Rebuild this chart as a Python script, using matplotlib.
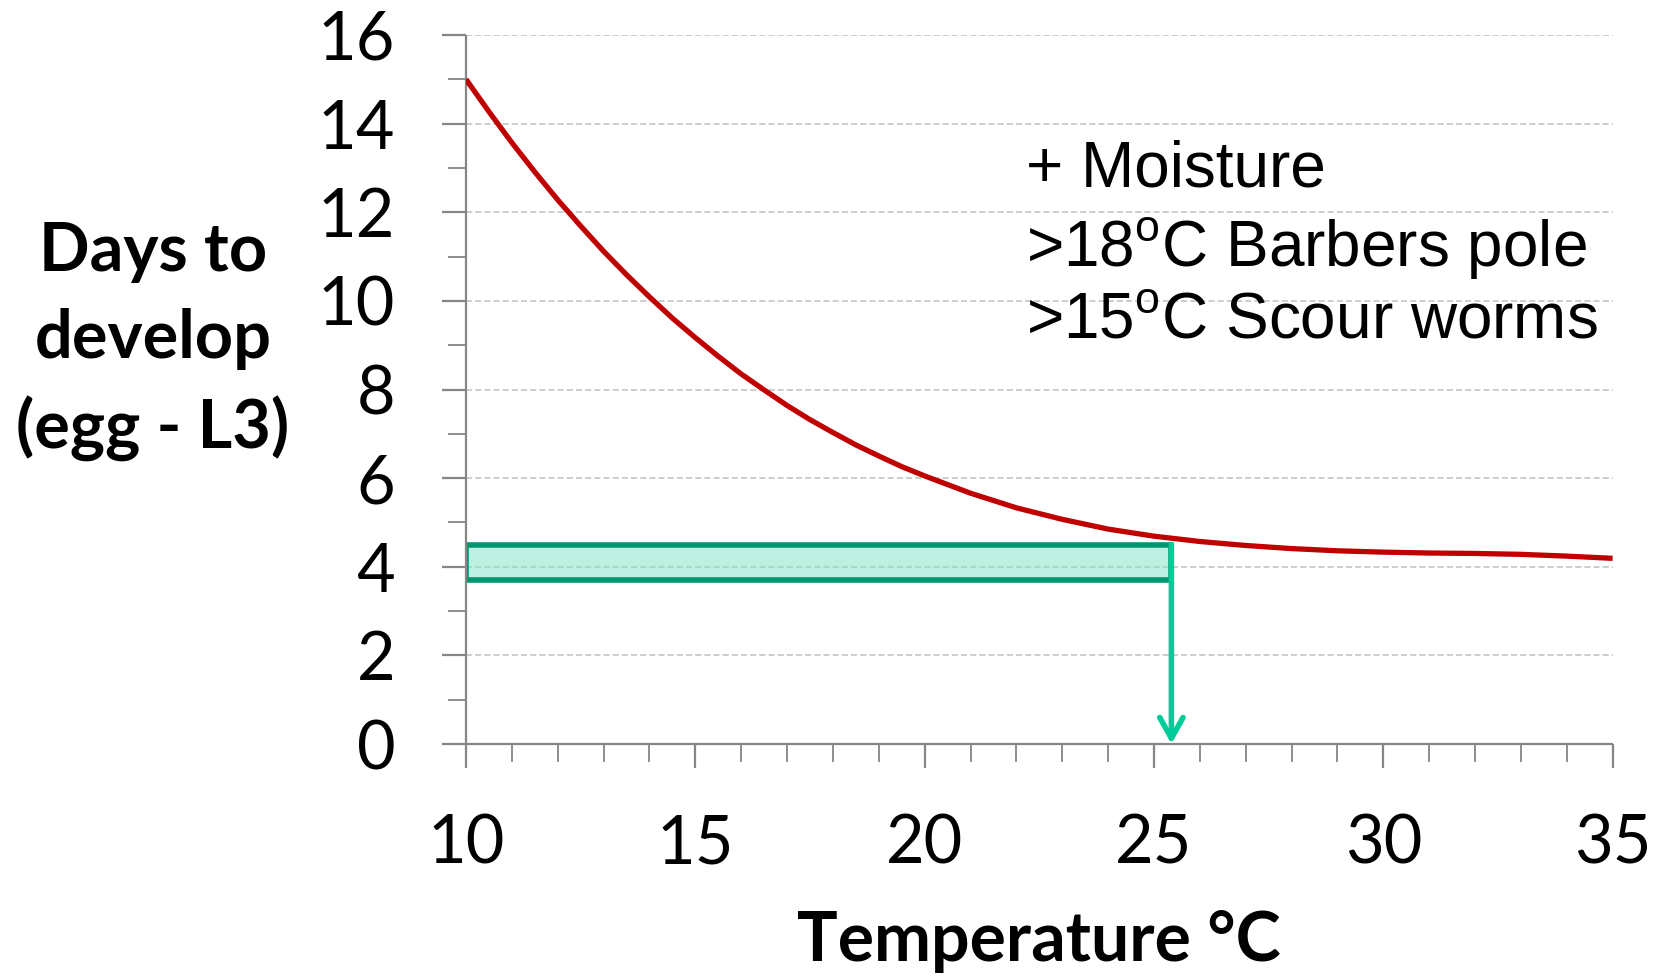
import matplotlib
matplotlib.use('Agg')
import matplotlib.pyplot as plt
from matplotlib.patches import Rectangle
from matplotlib.ticker import MultipleLocator

# values
temperature = [10, 10.5, 11, 11.5, 12, 12.5, 13, 13.5, 14, 14.5, 15, 15.5,
               16, 16.5, 17, 17.5, 18, 18.5, 19, 19.5, 20, 21, 22, 23, 24,
               25, 26, 27, 28, 29, 30, 31, 32, 33, 34, 35]
days = [15.0, 14.27, 13.57, 12.91, 12.28, 11.69, 11.12, 10.59, 10.09, 9.61,
        9.17, 8.75, 8.35, 7.99, 7.64, 7.32, 7.03, 6.75, 6.50, 6.26, 6.05,
        5.66, 5.33, 5.07, 4.85, 4.69, 4.57, 4.48, 4.41, 4.36, 4.33, 4.31,
        4.30, 4.28, 4.24, 4.19]

x_ticks = [10, 15, 20, 25, 30, 35]
y_ticks = [0, 2, 4, 6, 8, 10, 12, 14, 16]

# highlighted band and the temperature it points to
band_days = [3.7, 4.5]
band_temp = 25.38

notes = ['+ Moisture',
         r'>18$^{\mathrm{o}}$C Barbers pole',
         r'>15$^{\mathrm{o}}$C Scour worms']

plt.rcParams['font.family'] = ['Lato', 'DejaVu Sans']
plt.rcParams['mathtext.fontset'] = 'custom'
plt.rcParams['mathtext.rm'] = 'Liberation Sans'

axis_grey = '#868686'

fig = plt.figure(figsize=(16.59, 9.76), dpi=100)
ax = fig.add_axes([466/1659, 1-744/976, (1612.6-466)/1659, (744-35)/976])

ax.set_xlim(10, 35)
ax.set_ylim(0, 16)
ax.set_xticks(x_ticks)
ax.set_yticks(y_ticks)
ax.xaxis.set_minor_locator(MultipleLocator(1))
ax.yaxis.set_minor_locator(MultipleLocator(1))

for side in ['top', 'right']:
    ax.spines[side].set_visible(False)
for side in ['left', 'bottom']:
    ax.spines[side].set_color(axis_grey)
    ax.spines[side].set_linewidth(1.6)
    ax.spines[side].set_capstyle('butt')

ax.tick_params(which='major', length=17, width=1.6, color=axis_grey, labelsize=48)
ax.tick_params(which='minor', length=13, width=1.3, color=axis_grey)
ax.tick_params(axis='x', which='major', pad=33)
ax.tick_params(axis='y', which='major', pad=34)

ax.grid(axis='y', which='major', color='#c0c0c0', linestyle=(0, (4, 2)), linewidth=1.1)
ax.set_axisbelow(True)

# band + arrow
band = Rectangle((10, band_days[0]), band_temp - 10, band_days[1] - band_days[0],
                 facecolor=(0.5, 0.88, 0.76, 0.5), edgecolor='#009670',
                 linewidth=4, zorder=2)
ax.add_patch(band)
ax.annotate('', xy=(band_temp, 0), xytext=(band_temp, band_days[1]),
            arrowprops=dict(arrowstyle='->, head_length=0.5, head_width=0.28',
                            color='#00cc99', lw=4, mutation_scale=30,
                            shrinkA=0, shrinkB=0),
            zorder=3)

ax.plot(temperature, days, color='#c00000', linewidth=3.8, zorder=4,
        solid_capstyle='butt')

note_y = [12.97, 11.2, 9.55]
for txt, yy in zip(notes, note_y):
    ax.text(22.2, yy, txt, fontsize=46, family='Liberation Sans',
            ha='left', va='center')

ax.set_xlabel('Temperature °C', fontsize=49, fontweight='bold', va='center')
ax.xaxis.set_label_coords(0.5, -0.278)
ax.set_ylabel('Days to\ndevelop\n(egg - L3)', fontsize=48, fontweight='bold',
              rotation=0, ha='center', va='center', linespacing=1.5)
ax.yaxis.set_label_coords(-0.273, 0.568)

fig.savefig('out.png', dpi=100)
